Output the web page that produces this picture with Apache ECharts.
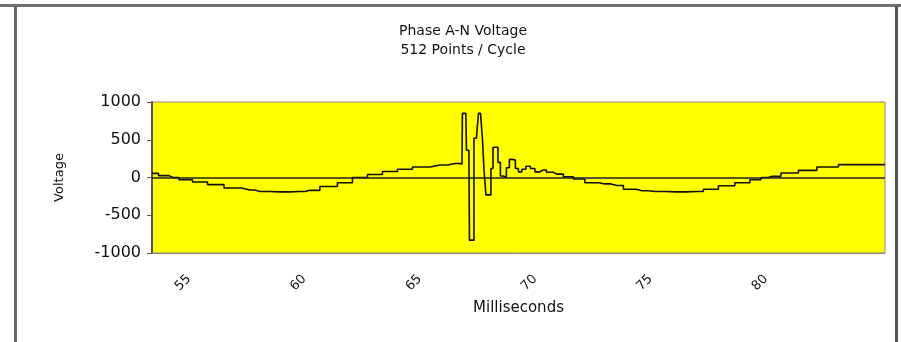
<!DOCTYPE html>
<html>
<head>
<meta charset="utf-8">
<script src="https://cdn.jsdelivr.net/npm/echarts@6/dist/echarts.min.js"></script>
<style>
html,body{margin:0;padding:0;background:#fff;}
#chart{width:901px;height:342px;}
</style>
</head>
<body>
<div id="chart"></div>
<script>
// Time (ms)
var timeMs = [53.40,53.96,54.31,54.83,55.48,56.13,56.91,57.64,58.08,58.94,59.81,60.24,61.11,61.76,62.41,63.06,63.71,64.36,65.01,65.88,66.53,
  66.83,66.87,67.00,67.05,67.13,67.18,67.31,67.39,67.52,67.57,67.70,67.74,67.83,67.91,68.04,68.13,68.22,68.35,68.43,68.56,68.69,68.82,68.95,69.08,69.21,69.34,69.51,69.69,69.90,70.08,70.34,70.64,70.94,
  71.51,71.81,72.50,73.02,73.54,74.11,74.63,75.19,76.10,77.01,77.57,78.31,79.00,79.61,79.96,80.26,81.04,81.78,82.64,83.64,85.16];
// Voltage values
var voltage = [55,25,0,-30,-60,-95,-140,-165,-185,-190,-185,-170,-120,-70,0,40,80,110,140,165,185,
  180,850,850,360,360,-830,-830,520,520,850,850,500,100,-230,-230,120,400,400,200,20,0,130,240,230,120,75,110,150,120,75,100,70,45,
  10,-20,-70,-85,-105,-155,-175,-185,-190,-185,-155,-110,-70,-30,0,15,60,95,140,170,170];
var xTicks = [55,60,65,70,75,80];
var yTicks = [-1000,-500,0,500,1000];
var titleText = 'Phase A-N Voltage';
var subTitleText = '512 Points / Cycle';
var xName = 'Milliseconds';
var yName = 'Voltage';

var pts = timeMs.map(function(t,i){return [t, voltage[i]];});
var font = '"DejaVu Sans", "Liberation Sans", Arial, sans-serif';

var chart = echarts.init(document.getElementById('chart'), null, {renderer:'canvas'});
chart.setOption({
  animation:false,
  backgroundColor:'#ffffff',
  title:[
    {text:titleText, left:458, top:19, textAlign:'center',
     textStyle:{fontFamily:font, fontSize:14, fontWeight:'normal', color:'#111'}},
    {text:subTitleText, left:458, top:38, textAlign:'center',
     textStyle:{fontFamily:font, fontSize:14, fontWeight:'normal', color:'#111'}}
  ],
  graphic:[
    {type:'rect', shape:{x:0,y:4,width:901,height:3}, style:{fill:'#707070'}, silent:true},
    {type:'rect', shape:{x:14,y:6,width:3,height:336}, style:{fill:'#666666'}, silent:true},
    {type:'rect', shape:{x:895,y:6,width:3,height:336}, style:{fill:'#555555'}, silent:true}
  ],
  grid:{left:152, right:16, top:102, bottom:89, show:true, backgroundColor:'#ffff00', borderColor:'#8a8a8a', borderWidth:1},
  xAxis:{
    type:'value', min:53.4, max:85.16,
    name:xName, nameLocation:'middle', nameGap:48,
    nameTextStyle:{fontFamily:font, fontSize:15, color:'#111'},
    axisLine:{onZero:false, lineStyle:{color:'#8a8a8a', width:1}},
    axisTick:{show:false, customValues:xTicks},
    splitLine:{show:false},
    axisLabel:{customValues:xTicks, rotate:45, margin:24, fontFamily:font, fontSize:13, color:'#111'}
  },
  yAxis:{
    type:'value', min:-1000, max:1000, interval:500,
    name:yName, nameLocation:'middle', nameGap:86, nameRotate:90,
    nameTextStyle:{fontFamily:font, fontSize:13, color:'#111'},
    axisLine:{show:true, onZero:false, lineStyle:{color:'#555555', width:2}},
    axisTick:{show:true, length:5, lineStyle:{color:'#555555', width:1}},
    splitLine:{show:false},
    axisLabel:{margin:11, fontFamily:font, fontSize:16, color:'#111',
      formatter:function(v){return String(v);}}
  },
  series:[{
    type:'line', data:pts, showSymbol:false, symbol:'none', step:'middle',
    lineStyle:{color:'#111111', width:1.6},
    markLine:{silent:true, symbol:['none','none'], label:{show:false},
      lineStyle:{color:'#222222', width:1.5, type:'solid'},
      data:[{yAxis:0}]}
  }]
});
</script>
</body>
</html>
